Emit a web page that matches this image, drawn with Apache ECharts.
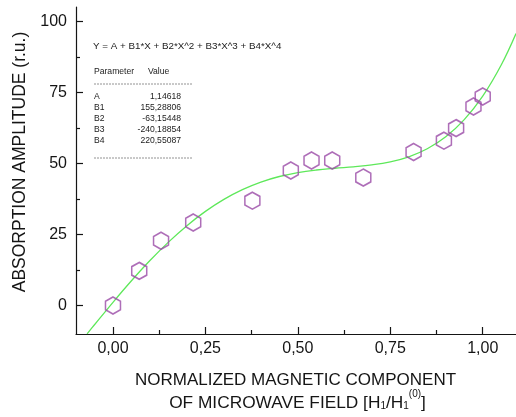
<!DOCTYPE html>
<html>
<head>
<meta charset="utf-8">
<script src="https://cdn.jsdelivr.net/npm/echarts@6/dist/echarts.min.js"></script>
<style>
  html, body { margin: 0; padding: 0; background: #ffffff; }
  #chart { width: 516px; height: 417px; }
</style>
</head>
<body>
<div id="chart"></div>
<script>
// Measured absorption amplitude vs normalized microwave field
const fieldX = [0.000, 0.071, 0.130, 0.217, 0.377, 0.481, 0.537, 0.593, 0.677, 0.813, 0.895, 0.928, 0.975, 1.000];
const amplitude = [0.0, 12.2, 22.8, 29.2, 36.9, 47.5, 51.0, 51.0, 45.0, 54.0, 58.0, 62.4, 70.0, 73.5];

// Points along the fitted 4th-order polynomial curve
const fitX = [-0.07, -0.05, 0.00, 0.05, 0.10, 0.15, 0.20, 0.25, 0.30, 0.35, 0.40, 0.45, 0.50,
              0.55, 0.60, 0.65, 0.70, 0.75, 0.80, 0.85, 0.90, 0.95, 1.00, 1.05, 1.09];
const fitY = [-9.95, -6.75, 1.15, 8.72, 15.83, 22.32, 28.11, 33.13, 37.35, 40.77, 43.43, 45.39, 46.76,
              47.67, 48.29, 48.81, 49.47, 50.54, 52.32, 55.14, 59.36, 65.38, 73.64, 84.60, 95.65];

// Axis ticks
const xMajorTicks = [0, 0.25, 0.5, 0.75, 1.0];
const xMinorTicks = [0.125, 0.375, 0.625, 0.875];
const yMajorTicks = [0, 25, 50, 75, 100];
const yMinorTicks = [12.5, 37.5, 62.5, 87.5];

// Fit report text
const fitEquation = 'Y = A + B1*X + B2*X^2 + B3*X^3 + B4*X^4';
const paramHeader = ['Parameter', 'Value'];
const paramNames = ['A', 'B1', 'B2', 'B3', 'B4'];
const paramValues = ['1,14618', '155,28806', '-63,15448', '-240,18854', '220,55087'];

const yTitle = 'ABSORPTION AMPLITUDE (r.u.)';
const xTitleLine1 = 'NORMALIZED MAGNETIC COMPONENT';

const FONT = '"Liberation Sans", Arial, sans-serif';
const INK = '#151515';

const chart = echarts.init(document.getElementById('chart'), null, { renderer: 'canvas' });

const fitPoints = fitX.map((x, i) => [x, fitY[i]]);
const measured = fieldX.map((x, i) => [x, amplitude[i]]);

const hexagon = 'path://M0,-10L8.66,-5L8.66,5L0,10L-8.66,5L-8.66,-5Z';

function commaDecimal(v) {
  return v.toFixed(2).replace('.', ',');
}

function baseX(extra) {
  return Object.assign({
    type: 'value', gridIndex: 0, min: -0.1, max: 1.09, position: 'bottom', offset: 0,
    splitLine: { show: false }
  }, extra);
}
function baseY(extra) {
  return Object.assign({
    type: 'value', gridIndex: 0, min: -10, max: 105, position: 'left', offset: 0,
    splitLine: { show: false }
  }, extra);
}

const tableFont = '8.6px ' + FONT;
const graphics = [];

// equation line
graphics.push({
  type: 'text', x: 93, y: 46,
  style: { text: fitEquation, font: '9.8px ' + FONT, fill: '#222', textAlign: 'left', textVerticalAlign: 'middle' }
});
// header
graphics.push({
  type: 'text', x: 94, y: 72,
  style: { text: paramHeader[0], font: tableFont, fill: '#222', textAlign: 'left', textVerticalAlign: 'middle' }
});
graphics.push({
  type: 'text', x: 148, y: 72,
  style: { text: paramHeader[1], font: tableFont, fill: '#222', textAlign: 'left', textVerticalAlign: 'middle' }
});
// dashed rules
[84, 158].forEach(yy => {
  graphics.push({
    type: 'line',
    shape: { x1: 94, y1: yy, x2: 192, y2: yy },
    style: { stroke: '#777', lineWidth: 0.8, lineDash: [2, 1] }
  });
});
// parameter rows
paramNames.forEach((name, i) => {
  const yy = 97 + i * 11;
  graphics.push({
    type: 'text', x: 94, y: yy,
    style: { text: name, font: tableFont, fill: '#222', textAlign: 'left', textVerticalAlign: 'middle' }
  });
  graphics.push({
    type: 'text', x: 181, y: yy,
    style: { text: paramValues[i], font: tableFont, fill: '#222', textAlign: 'right', textVerticalAlign: 'middle' }
  });
});
// y axis title
graphics.push({
  type: 'text', x: 20, y: 162, rotation: Math.PI / 2,
  style: { text: yTitle, font: '17.5px ' + FONT, fill: INK, textAlign: 'center', textVerticalAlign: 'middle' }
});
// x axis title, two lines
graphics.push({
  type: 'text', x: 295.5, y: 380,
  style: { text: xTitleLine1, font: '17px ' + FONT, fill: INK, textAlign: 'center', textVerticalAlign: 'middle' }
});
graphics.push({
  type: 'text', x: 297.5, y: 400.5,
  style: {
    text: '{m|OF MICROWAVE FIELD [H}{s|1}{m|/H}{s|1}{p|(0)}{m|]}',
    fill: INK, textAlign: 'center', textVerticalAlign: 'middle',
    rich: {
      m: { fontSize: 17.3, fontFamily: FONT, lineHeight: 22, verticalAlign: 'bottom', fill: INK },
      s: { fontSize: 10, fontFamily: FONT, lineHeight: 10, verticalAlign: 'bottom', fill: INK },
      p: { fontSize: 10, fontFamily: FONT, lineHeight: 10, verticalAlign: 'top', padding: [0, 0, 18, 0], fill: INK }
    }
  }
});

const option = {
  backgroundColor: '#ffffff',
  animation: false,
  grid: { left: 76, right: 0, top: 7, bottom: 83, containLabel: false },
  xAxis: [
    baseX({
      axisLine: { show: true, onZero: false, lineStyle: { color: INK, width: 1.2 } },
      axisTick: { show: true, inside: true, length: 7, customValues: xMajorTicks, lineStyle: { color: INK, width: 1.2 } },
      axisLabel: { show: true, customValues: xMajorTicks, formatter: commaDecimal, fontSize: 16, fontFamily: FONT, color: INK, margin: 7 }
    }),
    baseX({
      axisLine: { show: false, onZero: false },
      axisTick: { show: true, inside: true, length: 4, customValues: xMinorTicks, lineStyle: { color: INK, width: 1.2 } },
      axisLabel: { show: false }
    })
  ],
  yAxis: [
    baseY({
      axisLine: { show: true, onZero: false, lineStyle: { color: INK, width: 1.2 } },
      axisTick: { show: true, inside: true, length: 7, customValues: yMajorTicks, lineStyle: { color: INK, width: 1.2 } },
      axisLabel: { show: true, customValues: yMajorTicks, formatter: v => String(v), fontSize: 16, fontFamily: FONT, color: INK, margin: 9 }
    }),
    baseY({
      axisLine: { show: false, onZero: false },
      axisTick: { show: true, inside: true, length: 4, customValues: yMinorTicks, lineStyle: { color: INK, width: 1.2 } },
      axisLabel: { show: false }
    })
  ],
  series: [
    {
      name: 'fit',
      type: 'line',
      xAxisIndex: 0, yAxisIndex: 0,
      data: fitPoints,
      smooth: 0.4,
      showSymbol: false,
      clip: true,
      lineStyle: { color: '#5ee85a', width: 1.3 },
      z: 2
    },
    {
      name: 'measured',
      type: 'scatter',
      xAxisIndex: 0, yAxisIndex: 0,
      data: measured,
      symbol: hexagon,
      symbolSize: [15, 17],
      itemStyle: { color: 'rgba(0,0,0,0)', borderColor: '#9a4aa6', borderWidth: 1.6 },
      z: 3
    }
  ],
  graphic: graphics
};

chart.setOption(option);
</script>
</body>
</html>
